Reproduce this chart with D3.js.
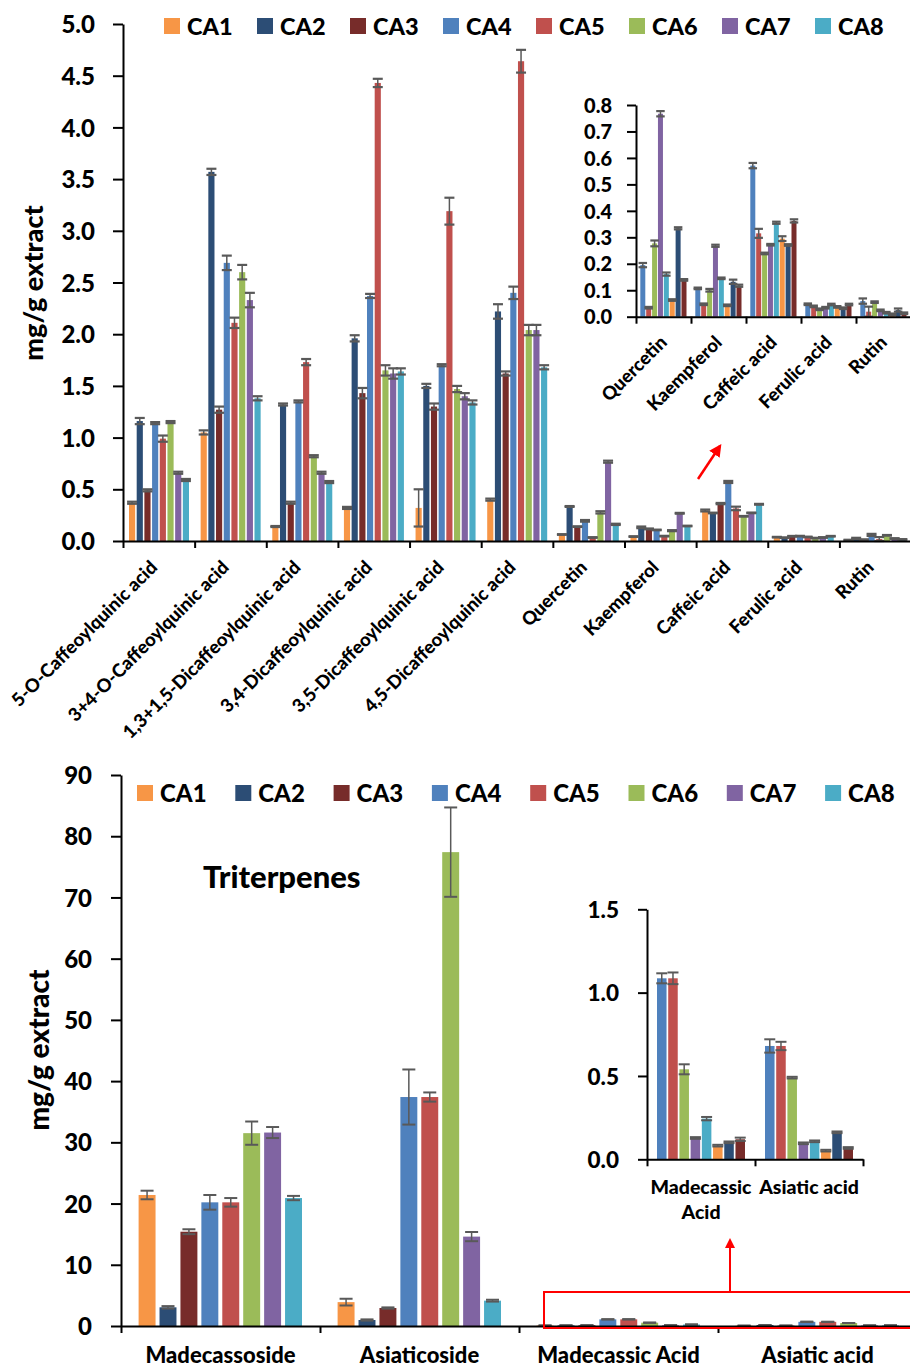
<!DOCTYPE html>
<html>
<head>
<meta charset="utf-8">
<script src="https://cdn.jsdelivr.net/npm/d3@7"></script>
<style>
  body { margin: 0; background: #fff; }
  svg text { font-family: Lato, "Open Sans", sans-serif; font-weight: 900; fill: #000; }
</style>
</head>
<body>
<svg id="chart" width="910" height="1367"></svg>
<script>
// ---------- series ----------
const series = ["CA1", "CA2", "CA3", "CA4", "CA5", "CA6", "CA7", "CA8"];
const seriesColors = ["#F79646", "#2C4D75", "#772C2A", "#4F81BD", "#C0504D", "#9BBB59", "#8064A2", "#4BACC6"];
const insetSeriesOrder = ["CA4", "CA5", "CA6", "CA7", "CA8", "CA1", "CA2", "CA3"];

// ---------- phenolic compounds (mg/g extract) ----------
const phenolicCategories = [
  "5-O-Caffeoylquinic acid", "3+4-O-Caffeoylquinic acid", "1,3+1,5-Dicaffeoylquinic acid",
  "3,4-Dicaffeoylquinic acid", "3,5-Dicaffeoylquinic acid", "4,5-Dicaffeoylquinic acid",
  "Quercetin", "Kaempferol", "Caffeic acid", "Ferulic acid", "Rutin"
];
const phenolicInsetCategories = ["Quercetin", "Kaempferol", "Caffeic acid", "Ferulic acid", "Rutin"];
const phenolicTicks = [0, 0.5, 1, 1.5, 2, 2.5, 3, 3.5, 4, 4.5, 5];
const phenolicInsetTicks = [0, 0.1, 0.2, 0.3, 0.4, 0.5, 0.6, 0.7, 0.8];

const phenolicCA1    = [0.37, 1.05, 0.14, 0.32, 0.32, 0.40, 0.063, 0.043, 0.295, 0.037, 0.009];
const phenolicCA1Err = [0.01, 0.02, 0.005, 0.01, 0.18, 0.01, 0.003, 0.003, 0.009, 0.003, 0.003];
const phenolicCA2    = [1.16, 3.57, 1.32, 1.96, 1.50, 2.22, 0.334, 0.132, 0.271, 0.032, 0.025];
const phenolicCA2Err = [0.03, 0.03, 0.01, 0.03, 0.02, 0.07, 0.004, 0.008, 0.003, 0.003, 0.006];
const phenolicCA3    = [0.49, 1.27, 0.37, 1.43, 1.30, 1.62, 0.139, 0.117, 0.362, 0.046, 0.013];
const phenolicCA3Err = [0.01, 0.03, 0.01, 0.05, 0.03, 0.02, 0.003, 0.004, 0.006, 0.003, 0.003];
const phenolicCA4    = [1.14, 2.69, 1.35, 2.37, 1.70, 2.40, 0.195, 0.107, 0.571, 0.047, 0.059];
const phenolicCA4Err = [0.01, 0.07, 0.01, 0.02, 0.01, 0.06, 0.008, 0.003, 0.010, 0.003, 0.010];
const phenolicCA5    = [0.99, 2.11, 1.73, 4.43, 3.19, 4.64, 0.034, 0.047, 0.315, 0.039, 0.019];
const phenolicCA5Err = [0.03, 0.05, 0.03, 0.04, 0.13, 0.11, 0.003, 0.003, 0.017, 0.003, 0.019];
const phenolicCA6    = [1.15, 2.60, 0.82, 1.65, 1.47, 2.04, 0.277, 0.100, 0.239, 0.028, 0.055];
const phenolicCA6Err = [0.01, 0.07, 0.01, 0.05, 0.03, 0.05, 0.011, 0.005, 0.003, 0.003, 0.003];
const phenolicCA7    = [0.66, 2.33, 0.66, 1.62, 1.40, 2.04, 0.767, 0.268, 0.272, 0.034, 0.024];
const phenolicCA7Err = [0.01, 0.07, 0.01, 0.05, 0.03, 0.05, 0.010, 0.004, 0.003, 0.003, 0.003];
const phenolicCA8    = [0.59, 1.38, 0.57, 1.64, 1.34, 1.68, 0.161, 0.145, 0.355, 0.046, 0.015];
const phenolicCA8Err = [0.01, 0.02, 0.01, 0.03, 0.02, 0.02, 0.006, 0.003, 0.004, 0.003, 0.003];

// ---------- triterpenes (mg/g extract) ----------
const triterpeneCategories = ["Madecassoside", "Asiaticoside", "Madecassic Acid", "Asiatic acid"];
const triterpeneInsetCategories = ["Madecassic Acid", "Asiatic acid"];
const triterpeneInsetLabels = [["Madecassic", "Acid"], ["Asiatic acid"]];
const triterpeneTicks = [0, 10, 20, 30, 40, 50, 60, 70, 80, 90];
const triterpeneInsetTicks = [0, 0.5, 1.0, 1.5];

const triterpeneCA1    = [21.4, 3.90, 0.082, 0.052];
const triterpeneCA1Err = [0.70, 0.55, 0.005, 0.005];
const triterpeneCA2    = [3.05, 0.98, 0.102, 0.162];
const triterpeneCA2Err = [0.20, 0.10, 0.005, 0.005];
const triterpeneCA3    = [15.4, 2.94, 0.120, 0.068];
const triterpeneCA3Err = [0.40, 0.10, 0.010, 0.005];
const triterpeneCA4    = [20.2, 37.4, 1.086, 0.680];
const triterpeneCA4Err = [1.20, 4.50, 0.030, 0.040];
const triterpeneCA5    = [20.2, 37.4, 1.086, 0.680];
const triterpeneCA5Err = [0.70, 0.75, 0.035, 0.025];
const triterpeneCA6    = [31.5, 77.4, 0.540, 0.490];
const triterpeneCA6Err = [1.90, 7.30, 0.030, 0.005];
const triterpeneCA7    = [31.6, 14.6, 0.128, 0.096];
const triterpeneCA7Err = [0.90, 0.75, 0.005, 0.005];
const triterpeneCA8    = [20.9, 4.14, 0.244, 0.108];
const triterpeneCA8Err = [0.35, 0.15, 0.010, 0.005];

// ---------- lookup tables built from the arrays ----------
const phenolic = {
  CA1: [phenolicCA1, phenolicCA1Err], CA2: [phenolicCA2, phenolicCA2Err],
  CA3: [phenolicCA3, phenolicCA3Err], CA4: [phenolicCA4, phenolicCA4Err],
  CA5: [phenolicCA5, phenolicCA5Err], CA6: [phenolicCA6, phenolicCA6Err],
  CA7: [phenolicCA7, phenolicCA7Err], CA8: [phenolicCA8, phenolicCA8Err]
};
const triterpene = {
  CA1: [triterpeneCA1, triterpeneCA1Err], CA2: [triterpeneCA2, triterpeneCA2Err],
  CA3: [triterpeneCA3, triterpeneCA3Err], CA4: [triterpeneCA4, triterpeneCA4Err],
  CA5: [triterpeneCA5, triterpeneCA5Err], CA6: [triterpeneCA6, triterpeneCA6Err],
  CA7: [triterpeneCA7, triterpeneCA7Err], CA8: [triterpeneCA8, triterpeneCA8Err]
};
const color = d3.scaleOrdinal().domain(series).range(seriesColors);

const svg = d3.select("#chart");

// Clustered bars with error bars.
function drawPanel(opt) {
  const g = svg.append("g");
  const n = opt.categories.length;
  const xb = d3.scaleLinear().domain([0, n]).range([opt.x0, opt.x0 + n * opt.band]);
  const y = d3.scaleLinear().domain(opt.yDomain).range([opt.yBottom, opt.yTop]);
  const sub = d3.scaleBand().domain(opt.order)
    .range([opt.subStart, opt.subEnd]).paddingInner(opt.padInner).paddingOuter(0);

  const rows = [];
  opt.categories.forEach((cat, i) => {
    const ci = opt.allCategories.indexOf(cat);
    opt.order.forEach(s => {
      rows.push({ i, s, v: opt.table[s][0][ci], e: opt.table[s][1][ci] });
    });
  });

  const bx = d => xb(d.i) + sub(d.s);
  g.selectAll("rect.bar").data(rows).join("rect")
    .attr("class", "bar")
    .attr("x", bx)
    .attr("width", sub.bandwidth())
    .attr("y", d => y(d.v))
    .attr("height", d => y(0) - y(d.v))
    .attr("fill", d => color(d.s));

  const cx = d => bx(d) + sub.bandwidth() / 2;
  const hc = opt.cap / 2;
  g.selectAll("line.err").data(rows).join("line")
    .attr("class", "err")
    .attr("x1", cx).attr("x2", cx)
    .attr("y1", d => y(d.v + d.e)).attr("y2", d => y(Math.max(0, d.v - d.e)))
    .attr("stroke", "#595959").attr("stroke-width", 1.5);
  ["top", "bot"].forEach(k => {
    g.selectAll("line.cap" + k).data(rows).join("line")
      .attr("class", "cap" + k)
      .attr("x1", d => cx(d) - hc).attr("x2", d => cx(d) + hc)
      .attr("y1", d => y(k === "top" ? d.v + d.e : Math.max(0, d.v - d.e)))
      .attr("y2", d => y(k === "top" ? d.v + d.e : Math.max(0, d.v - d.e)))
      .attr("stroke", "#595959").attr("stroke-width", opt.capWidth);
  });

  // y axis
  const ya = g.append("g").attr("transform", `translate(${opt.x0},0)`)
    .call(d3.axisLeft(y).tickValues(opt.ticks).tickFormat(opt.fmt)
      .tickSize(opt.tickLen).tickSizeOuter(0).tickPadding(opt.tickPad));
  ya.attr("font-family", null).attr("font-size", null);
  ya.select(".domain").attr("stroke", "#000").attr("stroke-width", 2);
  ya.selectAll(".tick line").attr("stroke", "#000").attr("stroke-width", 2);
  ya.selectAll(".tick text").attr("font-size", opt.tickFont).attr("dy", "0.36em");

  // x axis with ticks on category boundaries
  const xa = g.append("g").attr("transform", `translate(0,${opt.yBottom})`)
    .call(d3.axisBottom(xb).tickValues(d3.range(n + 1)).tickFormat("")
      .tickSize(7).tickSizeOuter(0));
  xa.select(".domain").attr("stroke", "#000").attr("stroke-width", 2);
  xa.selectAll(".tick line").attr("stroke", "#000").attr("stroke-width", 2);

  return { g, xb, y };
}

// ---------- top: phenolic compounds ----------
const phenolicPanel = drawPanel({
  categories: phenolicCategories, allCategories: phenolicCategories, table: phenolic,
  order: series, x0: 123, band: 71.64, yDomain: [0, 5], yBottom: 541, yTop: 24,
  subStart: 6, subEnd: 66, padInner: 0.2, cap: 10, capWidth: 2.2,
  ticks: phenolicTicks, fmt: d3.format(".1f"), tickLen: 10, tickPad: 18, tickFont: 24
});
phenolicPanel.g.selectAll("text.cat").data(phenolicCategories).join("text")
  .attr("class", "cat")
  .attr("transform", (d, i) => `translate(${phenolicPanel.xb(i + 0.5) - 5},${564}) rotate(-45)`)
  .attr("text-anchor", "end").attr("dy", "0.35em").attr("font-size", 18.5).text(d => d);

const phenolicInset = drawPanel({
  categories: phenolicInsetCategories, allCategories: phenolicCategories, table: phenolic,
  order: insetSeriesOrder, x0: 636, band: 55, yDomain: [0, 0.8], yBottom: 316.7, yTop: 105,
  subStart: 4.3, subEnd: 50.5, padInner: 0.15, cap: 8.5, capWidth: 2.2,
  ticks: phenolicInsetTicks, fmt: d3.format(".1f"), tickLen: 9, tickPad: 15, tickFont: 20
});
phenolicInset.g.selectAll("text.cat").data(phenolicInsetCategories).join("text")
  .attr("class", "cat")
  .attr("transform", (d, i) => `translate(${phenolicInset.xb(i + 0.5)},${339}) rotate(-45)`)
  .attr("text-anchor", "end").attr("dy", "0.35em").attr("font-size", 18.5).text(d => d);

// legend (top)
const legTop = svg.append("g").selectAll("g").data(series).join("g")
  .attr("transform", (d, i) => `translate(${164 + i * 93},18)`);
legTop.append("rect").attr("width", 16).attr("height", 16).attr("fill", d => color(d));
legTop.append("text").attr("x", 23).attr("y", 16.5).attr("font-size", 23.5).text(d => d);

// y title (top)
svg.append("text").attr("transform", "translate(43,283) rotate(-90)")
  .attr("text-anchor", "middle").attr("font-size", 27).text("mg/g extract");

// pointer from the small-value groups to the inset
const defs = svg.append("defs");
defs.append("marker").attr("id", "arrowRed").attr("viewBox", "0 0 10 10")
  .attr("refX", 8).attr("refY", 5).attr("markerWidth", 5).attr("markerHeight", 5)
  .attr("orient", "auto-start-reverse")
  .append("path").attr("d", "M0,0 L10,5 L0,10 Z").attr("fill", "#FF0000");
svg.append("line").attr("x1", 698).attr("y1", 479).attr("x2", 720).attr("y2", 446)
  .attr("stroke", "#FF0000").attr("stroke-width", 2.5).attr("marker-end", "url(#arrowRed)");

// ---------- bottom: triterpenes ----------
const triterpenePanel = drawPanel({
  categories: triterpeneCategories, allCategories: triterpeneCategories, table: triterpene,
  order: series, x0: 121, band: 199, yDomain: [0, 90], yBottom: 1326, yTop: 775,
  subStart: 17.6, subEnd: 181, padInner: 0.19, cap: 13, capWidth: 2,
  ticks: triterpeneTicks, fmt: d3.format("d"), tickLen: 10, tickPad: 19, tickFont: 24
});
triterpenePanel.g.selectAll("text.cat").data(triterpeneCategories).join("text")
  .attr("class", "cat")
  .attr("x", (d, i) => triterpenePanel.xb(i + 0.5)).attr("y", 1363)
  .attr("text-anchor", "middle").attr("font-size", 22).text(d => d);

const triterpeneInset = drawPanel({
  categories: triterpeneInsetCategories, allCategories: triterpeneCategories, table: triterpene,
  order: insetSeriesOrder, x0: 647, band: 108, yDomain: [0, 1.5], yBottom: 1159.3, yTop: 909.3,
  subStart: 10, subEnd: 98, padInner: 0.15, cap: 11, capWidth: 2,
  ticks: triterpeneInsetTicks, fmt: d3.format(".1f"), tickLen: 9, tickPad: 19, tickFont: 22.5
});
triterpeneInset.g.selectAll("text.cat").data(triterpeneInsetLabels).join("text")
  .attr("class", "cat")
  .attr("text-anchor", "middle").attr("font-size", 19.5)
  .each(function (lines, i) {
    const t = d3.select(this);
    lines.forEach((ln, k) => {
      t.append("tspan").attr("x", triterpeneInset.xb(i + 0.5)).attr("y", 1194 + k * 25).text(ln);
    });
  });

// legend (bottom)
const legBot = svg.append("g").selectAll("g").data(series).join("g")
  .attr("transform", (d, i) => `translate(${137 + i * 98.3},785)`);
legBot.append("rect").attr("width", 16).attr("height", 16).attr("fill", d => color(d));
legBot.append("text").attr("x", 23).attr("y", 16.5).attr("font-size", 24).text(d => d);

svg.append("text").attr("x", 203).attr("y", 888).attr("font-size", 31).text("Triterpenes");

svg.append("text").attr("transform", "translate(49,1050) rotate(-90)")
  .attr("text-anchor", "middle").attr("font-size", 28).text("mg/g extract");

// highlight box around the small acid values, pointing at the inset
svg.append("rect").attr("x", 544).attr("y", 1292).attr("width", 380).attr("height", 36)
  .attr("fill", "none").attr("stroke", "#FF0000").attr("stroke-width", 2);
svg.append("line").attr("x1", 730).attr("y1", 1292).attr("x2", 730).attr("y2", 1240)
  .attr("stroke", "#FF0000").attr("stroke-width", 2).attr("marker-end", "url(#arrowRed)");
</script>
</body>
</html>
